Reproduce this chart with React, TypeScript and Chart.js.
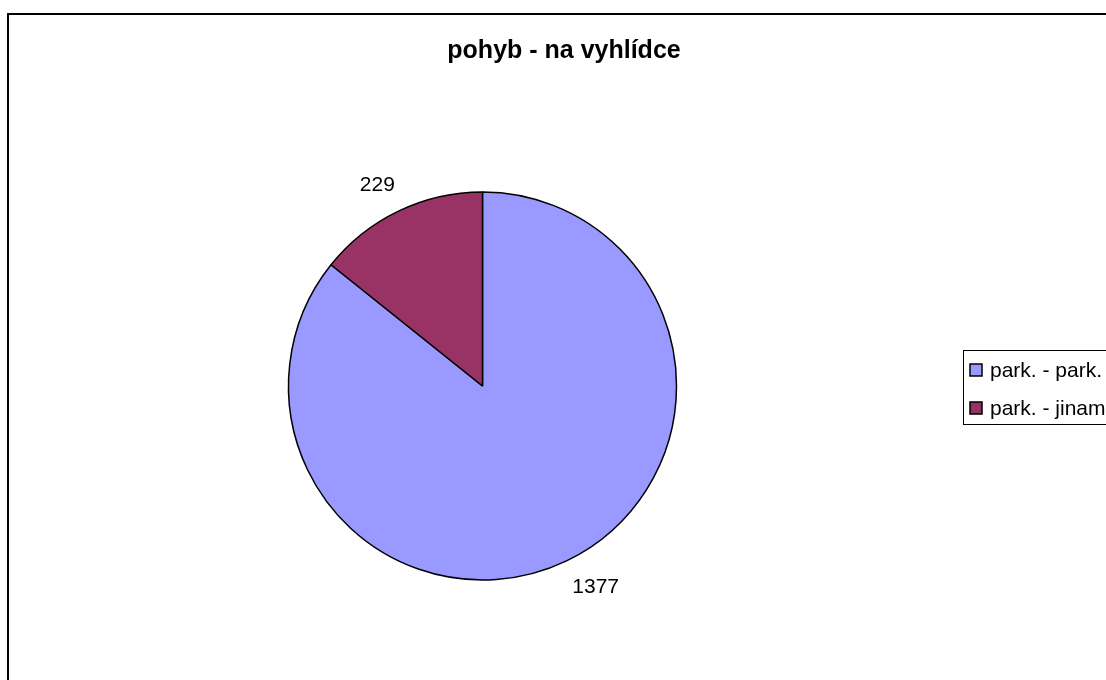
import React, { useEffect, useRef } from "react";
import { Chart, registerables } from "chart.js";

Chart.register(...registerables);

// Chart data
const categories = ["park. - park.", "park. - jinam"];
const values = [1377, 229];
const sliceColors = ["#9999FF", "#993366"];
const chartTitle = "pohyb - na vyhlídce";

const FONT = "'Liberation Sans', Arial, sans-serif";

// Frame, title, value labels and the boxed legend, drawn around the pie
const decorations = {
  id: "decorations",
  beforeDraw(chart: any) {
    const ctx = chart.ctx;
    ctx.save();
    ctx.fillStyle = "#ffffff";
    ctx.fillRect(0, 0, chart.width, chart.height);
    ctx.strokeStyle = "#000000";
    ctx.lineWidth = 2;
    ctx.strokeRect(8, 14, 1300, 900);
    ctx.restore();
  },
  afterDraw(chart: any) {
    const ctx = chart.ctx;
    ctx.save();
    ctx.fillStyle = "#000000";
    ctx.textAlign = "center";
    ctx.textBaseline = "middle";

    // title
    ctx.font = `bold 25px ${FONT}`;
    ctx.fillText(chartTitle, 564, 51);

    // value labels outside each slice
    ctx.font = `21px ${FONT}`;
    const meta = chart.getDatasetMeta(0);
    meta.data.forEach((arc: any, i: number) => {
      const p = arc.getProps(["x", "y", "startAngle", "endAngle", "outerRadius"], true);
      const mid = (p.startAngle + p.endAngle) / 2;
      const lx = p.x + Math.cos(mid) * (p.outerRadius + 58) + 4;
      const ly = p.y + Math.sin(mid) * (p.outerRadius + 29);
      ctx.fillText(String(chart.data.datasets[0].data[i]), lx, ly);
    });

    // legend
    const boxX = 963.5;
    const boxY = 350.5;
    ctx.lineWidth = 1;
    ctx.strokeStyle = "#000000";
    ctx.strokeRect(boxX, boxY, 400, 74);
    ctx.textAlign = "left";
    ctx.font = `21px ${FONT}`;
    const labels = chart.data.labels as string[];
    labels.forEach((lab, i) => {
      const cy = 370 + i * 38;
      ctx.fillStyle = chart.data.datasets[0].backgroundColor[i];
      ctx.fillRect(970, cy - 6, 12, 12);
      ctx.lineWidth = 1.5;
      ctx.strokeRect(970, cy - 6, 12, 12);
      ctx.fillStyle = "#000000";
      ctx.fillText(lab, 990, cy + 1);
    });
    ctx.restore();
  },
};

export default function App() {
  const canvasRef = useRef<HTMLCanvasElement | null>(null);

  useEffect(() => {
    const canvas = canvasRef.current;
    if (!canvas) return;
    const chart = new Chart(canvas, {
      type: "pie",
      data: {
        labels: categories,
        datasets: [
          {
            data: values,
            backgroundColor: sliceColors,
            borderColor: "#000000",
            borderWidth: 1.5,
          },
        ],
      },
      options: {
        responsive: false,
        animation: false,
        radius: 194,
        layout: {
          padding: { left: 280, right: 421, top: 180, bottom: 88 },
        },
        plugins: {
          legend: { display: false },
          title: { display: false },
          tooltip: { enabled: false },
        },
      } as any,
      plugins: [decorations],
    });
    return () => chart.destroy();
  }, []);

  return (
    <canvas
      ref={canvasRef}
      width={1106}
      height={680}
      style={{ position: "absolute", left: 0, top: 0, display: "block" }}
    />
  );
}
